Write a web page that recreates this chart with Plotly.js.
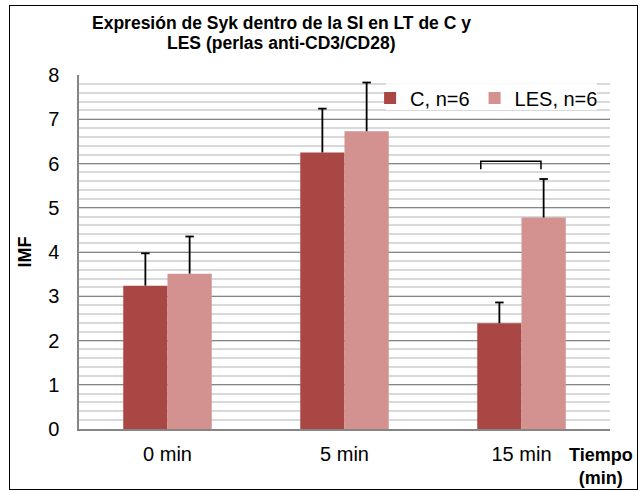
<!DOCTYPE html>
<html><head><meta charset="utf-8">
<script src="https://cdn.plot.ly/plotly-3.0.1.min.js"></script>
<style>
body{margin:0;background:#fff;}
#frame{position:absolute;left:9px;top:5px;width:627px;height:483px;border:1.5px solid #000;pointer-events:none;z-index:5;}
#chart{position:absolute;left:0;top:0;width:641px;height:491px;}
</style></head>
<body>
<div id="chart"></div><div id="frame"></div>
<script>
const categories = ['0 min', '5 min', '15 min'];
const seriesNames = ['C, n=6', 'LES, n=6'];
const valuesC = [3.24, 6.25, 2.39];
const errorC = [0.73, 0.99, 0.47];
const valuesLES = [3.51, 6.73, 4.78];
const errorLES = [0.84, 1.10, 0.87];
const yTicks = [0, 1, 2, 3, 4, 5, 6, 7, 8];
const bracketX = [1.77, 2.11];
const bracketY = [5.87, 6.05];

const pos = categories.map((c, i) => i);
const barW = 0.25;
const capHalf = 0.024;

function errTrace(values, errs, offset) {
  const xs = [], ys = [];
  values.forEach((v, i) => {
    const cx = pos[i] + offset;
    xs.push(cx, cx, null, cx - capHalf, cx + capHalf, null);
    ys.push(v, v + errs[i], null, v + errs[i], v + errs[i], null);
  });
  return {type: 'scatter', mode: 'lines', x: xs, y: ys, showlegend: false, hoverinfo: 'skip',
          line: {color: '#000', width: 1.8}};
}

const traces = [
  {type: 'bar', name: seriesNames[0], x: pos, y: valuesC, width: barW, offset: -barW,
   marker: {color: '#A94744'}},
  {type: 'bar', name: seriesNames[1], x: pos, y: valuesLES, width: barW, offset: 0,
   marker: {color: '#D39190'}},
  errTrace(valuesC, errorC, -barW / 2),
  errTrace(valuesLES, errorLES, barW / 2)
];

const layout = {
  width: 641, height: 491,
  margin: {l: 79, r: 31, t: 75, b: 62},
  paper_bgcolor: '#fff', plot_bgcolor: '#fff',
  font: {family: 'Arial, "Liberation Sans", sans-serif', color: '#000', size: 20},
  showlegend: true,
  legend: {orientation: 'h', x: 0.987, xanchor: 'right', y: 0.99, yanchor: 'top',
           bgcolor: 'rgba(0,0,0,0)', font: {size: 20}, itemwidth: 30, tracegroupgap: 0},
  xaxis: {range: [-0.5, 2.5], tickvals: pos, ticktext: categories, showgrid: false, zeroline: false,
          showline: true, linecolor: '#868686', linewidth: 1.5, fixedrange: true,
          ticks: '', tickfont: {size: 20}, ticklabelstandoff: 6},
  yaxis: {range: [0, 8], tickvals: yTicks, showline: true, linecolor: '#868686', linewidth: 1.5,
          gridcolor: '#868686', gridwidth: 1.2, zeroline: false, ticks: '', tickfont: {size: 20},
          ticklabelstandoff: 14,
          minor: {dtick: 0.2, showgrid: true, gridcolor: '#d9d9d9', gridwidth: 2},
          title: {text: '<b>IMF</b>', font: {size: 18}, standoff: 12}},
  shapes: [
    {type: 'path', xref: 'x', yref: 'y',
     path: 'M' + bracketX[0] + ',' + bracketY[0] + ' L' + bracketX[0] + ',' + bracketY[1] +
           ' L' + bracketX[1] + ',' + bracketY[1] + ' L' + bracketX[1] + ',' + bracketY[0],
     line: {color: '#000', width: 1.5}},
    {type: 'rect', xref: 'paper', yref: 'paper', x0: 0.578, x1: 0.9755, y0: 0.901, y1: 0.977,
     fillcolor: '#fff', line: {width: 0}, layer: 'above'}
  ],
  annotations: [
    {text: '<b>Expresión de Syk dentro de la SI en LT de C y</b>', xref: 'paper', yref: 'paper',
     x: 0.381, y: 1.147, xanchor: 'center', yanchor: 'middle', showarrow: false, borderpad: 0,
     font: {size: 17.5}},
    {text: '<b>LES (perlas anti-CD3/CD28)</b>', xref: 'paper', yref: 'paper',
     x: 0.381, y: 1.089, xanchor: 'center', yanchor: 'middle', showarrow: false, borderpad: 0,
     font: {size: 17.5}},
    {text: '<b>Tiempo<br>(min)</b>', xref: 'paper', yref: 'paper', x: 0.983, y: -0.04,
     xanchor: 'center', yanchor: 'top', showarrow: false, font: {size: 18}}
  ]
};

Plotly.newPlot('chart', traces, layout, {displayModeBar: false});
</script>
</body></html>
